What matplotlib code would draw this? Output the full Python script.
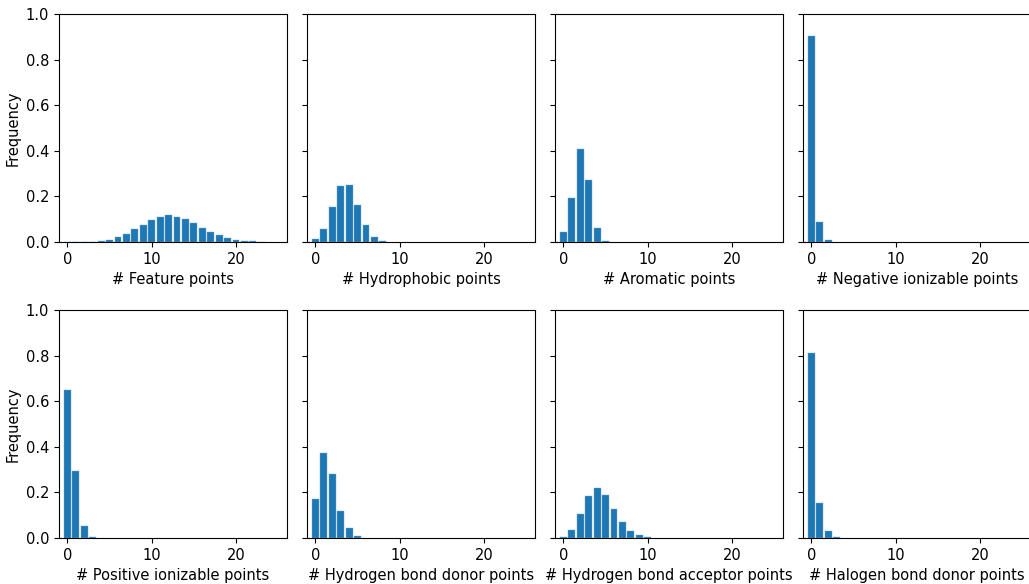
import numpy as np
import matplotlib
matplotlib.use('Agg')
import matplotlib.pyplot as plt

# Frequency of number of pharmacophore features per molecule
labels = ['# Feature points', '# Hydrophobic points', '# Aromatic points',
          '# Negative ionizable points', '# Positive ionizable points',
          '# Hydrogen bond donor points', '# Hydrogen bond acceptor points',
          '# Halogen bond donor points']

feature = [0.0, 0.0, 0.0, 0.001, 0.004, 0.009, 0.020, 0.035, 0.056, 0.076,
           0.096, 0.111, 0.118, 0.111, 0.099, 0.082, 0.063, 0.044, 0.029,
           0.018, 0.010, 0.006, 0.003, 0.001]
hydrophobic = [0.012, 0.057, 0.155, 0.246, 0.252, 0.161, 0.073, 0.023, 0.005]
aromatic = [0.045, 0.195, 0.410, 0.271, 0.062, 0.003]
negative = [0.905, 0.086, 0.007]
positive = [0.648, 0.292, 0.051, 0.003]
hbd = [0.170, 0.373, 0.281, 0.118, 0.042, 0.010]
hba = [0.006, 0.035, 0.107, 0.186, 0.219, 0.189, 0.126, 0.069, 0.032, 0.012, 0.003]
halogen = [0.812, 0.152, 0.032, 0.004]

series = [feature, hydrophobic, aromatic, negative,
          positive, hbd, hba, halogen]

W, H = 1029, 584
fig = plt.figure(figsize=(W / 100, H / 100), dpi=100)

lefts = [59, 307, 555, 803]
bottoms = [H - 242, H - 538]
size = 228

for i, (vals, lab) in enumerate(zip(series, labels)):
    row, col = divmod(i, 4)
    ax = fig.add_axes([lefts[col] / W, bottoms[row] / H, size / W, size / H])
    x = np.arange(len(vals))
    ax.bar(x, vals, width=0.8, color='#1f77b4', edgecolor='#6fa8d6', linewidth=0.3)
    ax.set_xlim(-1, 26.05)
    ax.set_ylim(0, 1.0)
    ax.set_xticks([0, 10, 20])
    ax.set_yticks(np.arange(0, 1.01, 0.2))
    ax.set_xlabel(lab, fontsize=10.5)
    if col == 0:
        ax.set_ylabel('Frequency', fontsize=10.5)
    else:
        ax.set_yticklabels([])
    ax.tick_params(labelsize=10.5)

fig.savefig('out.png', dpi=100)
